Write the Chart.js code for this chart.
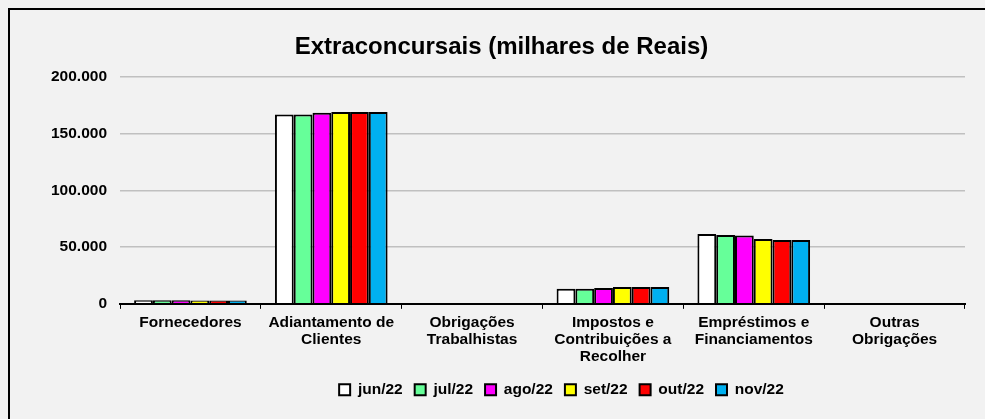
<!DOCTYPE html>
<html>
<head>
<meta charset="utf-8">
<script src="https://cdn.jsdelivr.net/npm/chart.js@4"></script>
<style>
  html, body { margin: 0; padding: 0; background: #f2f2f2; overflow: hidden; width: 985px; height: 419px; }
  #frame {
    position: absolute; left: 8px; top: 8px; width: 1200px; height: 600px;
    border-top: 2px solid #000; border-left: 2px solid #000;
  }
  #wrap { position: absolute; left: 0; top: 0; width: 975px; height: 409px; }
</style>
</head>
<body>
<div id="frame"><div id="wrap"><canvas id="chart"></canvas></div></div>
<script>
const categories = [
  "Fornecedores",
  ["Adiantamento de", "Clientes"],
  ["Obrigações", "Trabalhistas"],
  ["Impostos e", "Contribuições a", "Recolher"],
  ["Empréstimos e", "Financiamentos"],
  ["Outras", "Obrigações"]
];
const months = ["jun/22", "jul/22", "ago/22", "set/22", "out/22", "nov/22"];

// milhares de Reais, na ordem das categorias
const jun22 = [3100, 166800, 800, 13400, 61500, 700];
const jul22 = [3100, 166800, 800, 13400, 60700, 700];
const ago22 = [3100, 168300, 800, 13900, 60100, 700];
const set22 = [2900, 168900, 800, 14800, 57100, 700];
const out22 = [2900, 168900, 800, 14800, 56300, 700];
const nov22 = [2900, 168900, 800, 14800, 56300, 700];

const yTicks = [0, 50000, 100000, 150000, 200000];

const colors = ["#ffffff", "#66ff99", "#ff00ff", "#ffff00", "#ff0000", "#00b0f0"];
const series = [jun22, jul22, ago22, set22, out22, nov22];

const font = { family: "'Liberation Sans', Arial, sans-serif", size: 15.5, weight: "bold" };

function fmt(v) {
  return String(v).replace(/\B(?=(\d{3})+(?!\d))/g, ".");
}

// shift the legend to the right like the original
const legendShift = {
  id: "legendShift",
  afterLayout(chart) {
    const l = chart.legend;
    l.left += 60;
    l.right += 60;
  }
};

new Chart(document.getElementById("chart"), {
  type: "bar",
  data: {
    labels: categories,
    datasets: series.map((data, i) => ({
      label: months[i],
      data: data,
      backgroundColor: colors[i],
      borderColor: "#000000",
      borderWidth: 2,
      categoryPercentage: 0.8,
      barPercentage: 1.0
    }))
  },
  options: {
    responsive: true,
    maintainAspectRatio: false,
    animation: false,
    layout: { padding: { left: 28, right: 20, top: 0, bottom: 11.5 } },
    plugins: {
      title: {
        display: true,
        text: "Extraconcursais (milhares de Reais)",
        color: "#000",
        font: { family: font.family, size: 24, weight: "bold" },
        padding: { top: 23, bottom: 15 }
      },
      legend: {
        position: "bottom",
        labels: {
          color: "#000",
          font: font,
          boxWidth: 11,
          boxHeight: 11,
          padding: 12
        }
      },
      tooltip: { enabled: false }
    },
    scales: {
      x: {
        grid: {
          offset: true,
          drawOnChartArea: false,
          drawTicks: true,
          tickLength: 5,
          color: "#000"
        },
        border: { color: "#000", width: 2 },
        ticks: { color: "#000", font: { ...font, lineHeight: 1.1 }, maxRotation: 0, autoSkip: false, padding: 5 }
      },
      y: {
        min: 0,
        max: 200000,
        afterBuildTicks: (axis) => { axis.ticks = yTicks.map(v => ({ value: v })); },
        grid: { color: "#c0c0c0", lineWidth: 1.5, drawTicks: false },
        border: { display: false },
        ticks: { color: "#000", font: font, padding: 13, callback: (v) => fmt(v) }
      }
    }
  },
  plugins: [legendShift]
});
</script>
</body>
</html>
